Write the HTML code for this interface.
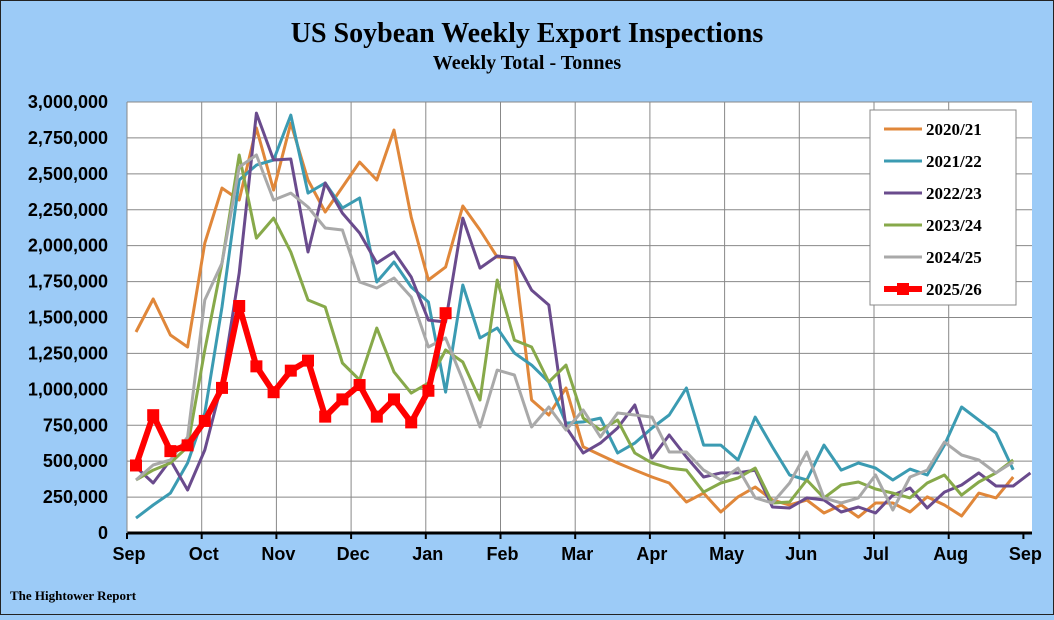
<!DOCTYPE html>
<html><head><meta charset="utf-8"><style>
html,body{margin:0;padding:0;}
body{width:1054px;height:615px;overflow:hidden;background:#9ccbf7;font-family:"Liberation Serif",serif;}
</style></head><body>
<svg id="chart" width="1054" height="615" xmlns="http://www.w3.org/2000/svg">
<rect x="0.5" y="0.5" width="1053" height="614" fill="#9ccbf7" stroke="#222"/>
<text x="527" y="42" text-anchor="middle" font-size="28" font-weight="bold" fill="#000">US Soybean Weekly Export Inspections</text>
<text x="527" y="69" text-anchor="middle" font-size="20" font-weight="bold" fill="#000">Weekly Total - Tonnes</text>
<rect x="127" y="102" width="905" height="431" fill="#fff"/>
<g id="grid"></g><g id="series"></g><g id="axes"></g>
<text x="10" y="600" font-size="13" font-weight="bold" fill="#000">The Hightower Report</text>
<g id="legend"></g>
</svg>
<script>
const months=["Sep","Oct","Nov","Dec","Jan","Feb","Mar","Apr","May","Jun","Jul","Aug","Sep"];
const yTicks=[0,250000,500000,750000,1000000,1250000,1500000,1750000,2000000,2250000,2500000,2750000,3000000];
const seriesNames=["2020/21","2021/22","2022/23","2023/24","2024/25","2025/26"];
const s2020=[1399,1629,1378,1295,2018,2401,2318,2819,2387,2853,2457,2234,2408,2582,2457,2805,2199,1761,1851,2276,2109,1921,1914,926,821,1009,599,543,487,438,390,348,216,278,146,251,320,230,195,230,139,195,111,209,209,146,251,195,118,278,244,390];
const s2021=[104,195,278,487,835,1573,2457,2561,2596,2909,2366,2436,2262,2332,1747,1886,1712,1608,981,1726,1357,1427,1253,1169,1051,765,773,800,557,626,731,821,1009,612,612,508,807,599,404,369,612,438,487,452,369,445,404,612,877,786,696,440];
const s2022=[459,348,508,299,578,1044,1810,2923,2596,2603,1956,2436,2227,2088,1879,1956,1782,1482,1469,2192,1844,1928,1914,1691,1587,738,557,626,731,891,522,682,529,390,418,418,438,181,174,244,230,146,181,139,264,313,174,285,334,418,327,327,418];
const s2023=[369,438,487,599,1274,1879,2631,2053,2192,1956,1622,1573,1183,1065,1427,1121,974,1044,1274,1190,926,1761,1343,1295,1051,1169,800,717,786,557,487,452,438,285,348,383,452,209,216,369,244,334,355,306,278,244,348,404,264,355,418,508];
const s2024=[369,473,508,668,1622,1879,2547,2631,2318,2366,2269,2123,2109,1747,1705,1775,1643,1295,1357,1065,738,1134,1100,738,877,717,856,668,835,821,807,564,564,438,369,452,244,209,348,564,244,209,244,404,160,390,438,633,543,508,418,494];
const s2025=[470,820,570,610,780,1010,1580,1160,980,1130,1200,810,930,1030,810,930,770,990,1530];
const allSeries=[s2020,s2021,s2022,s2023,s2024,s2025];
const colors=["#e0873a","#3b9bb2","#6a4b8d","#87a94a","#a9a9a9","#ff0000"];
const NS="http://www.w3.org/2000/svg";
const X0=127,X1=1032,Y0=533,Y1=102;
function xWeek(i){return 136+i*17.2;}
function xMonth(i){return X0+i*74.7;}
function yVal(v){return Y0-(v/3000000)*(Y0-Y1);}
function mk(tag,attrs,parent){const e=document.createElementNS(NS,tag);for(const k in attrs)e.setAttribute(k,attrs[k]);parent.appendChild(e);return e;}
const grid=document.getElementById('grid'),axes=document.getElementById('axes'),ser=document.getElementById('series'),leg=document.getElementById('legend');
yTicks.forEach((t,i)=>{
  const y=yVal(t);
  if(i>0){const l=mk('line',{x1:X0,x2:X1,y1:y,y2:y,stroke:'#888','stroke-width':1},grid);
  
  }
  const tx=mk('text',{x:108,y:y+6,'text-anchor':'end','font-size':18,'font-weight':'bold','font-family':'Liberation Sans, sans-serif'},axes);
  tx.textContent=t.toLocaleString('en-US');
  
  
});
months.forEach((m,i)=>{
  const x=xMonth(i);
  if(i>0&&i<12){const l=mk('line',{x1:x,x2:x,y1:Y1,y2:Y0,stroke:'#888','stroke-width':1},grid);
  
  }
  const tk=mk('line',{x1:x,x2:x,y1:Y0,y2:Y0+6,stroke:'#000','stroke-width':2},axes);
  
  
  const tx=mk('text',{x:x+2,y:560,'text-anchor':'middle','font-size':18,'font-weight':'bold','font-family':'Liberation Sans, sans-serif'},axes);
  tx.textContent=m;
  
  
});
const ax=mk('line',{x1:X0,x2:X1,y1:Y0,y2:Y0,stroke:'#000','stroke-width':3},axes);


const ay=mk('line',{x1:X0,x2:X0,y1:Y1,y2:Y0,stroke:'#888','stroke-width':1},axes);


allSeries.forEach((s,k)=>{
  const pts=s.map((v,i)=>xWeek(i).toFixed(1)+','+yVal(v*1000).toFixed(1)).join(' ');
  const pl=mk('polyline',{points:pts,fill:'none',stroke:colors[k],'stroke-width':k===5?6:3,'stroke-linejoin':'round'},ser);
  
  
  if(k===5){s.forEach((v,i)=>{
    const r=mk('rect',{x:xWeek(i)-6,y:yVal(v*1000)-6,width:12,height:12,fill:colors[k]},ser);
    
    
  });}
});
const lb=mk('rect',{x:870,y:110,width:146,height:195,fill:'#fff',stroke:'#888'},leg);


seriesNames.forEach((n,k)=>{
  const y=129+k*32;
  const l=mk('line',{x1:884,x2:922,y1:y,y2:y,stroke:colors[k],'stroke-width':k===5?6:3},leg);
  
  
  if(k===5){const r=mk('rect',{x:897,y:y-6,width:12,height:12,fill:colors[k]},leg);
  
  }
  const t=mk('text',{x:926,y:y+6,'font-size':17,'font-weight':'bold'},leg);
  t.textContent=n;
  
  
});
</script>
</body></html>
